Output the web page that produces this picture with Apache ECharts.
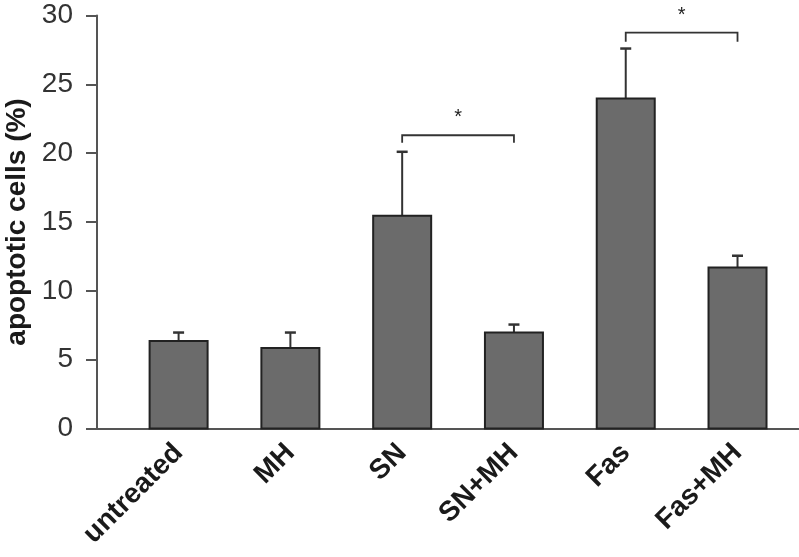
<!DOCTYPE html>
<html>
<head>
<meta charset="utf-8">
<script src="https://cdn.jsdelivr.net/npm/echarts@6/dist/echarts.min.js"></script>
<style>
html,body{margin:0;padding:0;background:#fff;}
#chart{width:799px;height:557px;}
</style>
</head>
<body>
<div id="chart"></div>
<script>
// Data
var categories = ['untreated', 'MH', 'SN', 'SN+MH', 'Fas', 'Fas+MH'];
var meanValues = [6.35, 5.85, 15.45, 6.97, 23.98, 11.7];
var errorTops = [6.97, 6.97, 20.1, 7.55, 27.6, 12.55];
var yTicks = [0, 5, 10, 15, 20, 25, 30];
// significance brackets
var bracketFrom = [2, 4];
var bracketTo = [3, 5];
var bracketTop = [21.3, 28.75];
var bracketEnd = [20.75, 28.1];
var starLevel = [22.6, 30.0];

var chart = echarts.init(document.getElementById('chart'));

var barData = meanValues.map(function (v, i) { return [i, v, errorTops[i]]; });
var brData = bracketFrom.map(function (f, k) {
  return [f, bracketTo[k], bracketTop[k], bracketEnd[k], starLevel[k]];
});

var font = 'Liberation Sans, Arial, Helvetica, sans-serif';

chart.setOption({
  animation: false,
  backgroundColor: '#ffffff',
  grid: { left: 97, right: 0, top: 15.5, bottom: 128.5, containLabel: false, outerBoundsMode: 'none' },
  xAxis: {
    type: 'value',
    min: -0.73,
    max: 5.55,
    splitLine: { show: false },
    axisLine: { show: true, onZero: false, lineStyle: { color: '#555', width: 2 } },
    axisTick: { show: false },
    axisLabel: {
      customValues: categories.map(function (c, i) { return i; }),
      formatter: function (v) { return categories[Math.round(v)]; },
      rotate: 45,
      margin: 20,
      fontFamily: font,
      fontWeight: 'bold',
      fontSize: 28,
      color: '#1a1a1a'
    }
  },
  yAxis: {
    type: 'value',
    min: 0,
    max: 30,
    interval: 5,
    name: 'apoptotic cells (%)',
    nameLocation: 'middle',
    nameGap: 65,
    nameTextStyle: { fontFamily: font, fontWeight: 'bold', fontSize: 28, color: '#1a1a1a' },
    splitLine: { show: false },
    axisLine: { show: true, onZero: false, lineStyle: { color: '#555', width: 2 } },
    axisTick: { show: true, length: 11, lineStyle: { color: '#555', width: 2 } },
    axisLabel: {
      margin: 24,
      fontFamily: font,
      fontSize: 28,
      color: '#333',
      formatter: function (v) { return yTicks.indexOf(v) >= 0 ? String(v) : ''; }
    }
  },
  series: [
    {
      type: 'custom',
      data: barData,
      z: 2,
      renderItem: function (params, api) {
        var x = api.value(0);
        var base = api.coord([x, 0]);
        var top = api.coord([x, api.value(1)]);
        var err = api.coord([x, api.value(2)]);
        var bw = 58, half = 5.5;
        return {
          type: 'group',
          children: [
            { type: 'line', shape: { x1: top[0], y1: top[1], x2: err[0], y2: err[1] },
              style: { stroke: '#333', lineWidth: 2 } },
            { type: 'line', shape: { x1: err[0] - half, y1: err[1], x2: err[0] + half, y2: err[1] },
              style: { stroke: '#333', lineWidth: 2.5 } },
            { type: 'rect', shape: { x: base[0] - bw / 2, y: top[1], width: bw, height: base[1] - top[1] },
              style: { fill: '#6b6b6b', stroke: '#222', lineWidth: 2 } }
          ]
        };
      }
    },
    {
      type: 'custom',
      data: brData,
      z: 3,
      renderItem: function (params, api) {
        var a = api.coord([api.value(0), api.value(3)]);
        var b = api.coord([api.value(0), api.value(2)]);
        var c = api.coord([api.value(1), api.value(2)]);
        var d = api.coord([api.value(1), api.value(3)]);
        var s = api.coord([(api.value(0) + api.value(1)) / 2, api.value(4)]);
        return {
          type: 'group',
          children: [
            { type: 'polyline', shape: { points: [a, b, c, d] },
              style: { stroke: '#333', lineWidth: 1.8, fill: null } },
            { type: 'text', x: s[0], y: s[1],
              style: { text: '*', fontSize: 20, fontFamily: font, fill: '#222', align: 'center', verticalAlign: 'middle' } }
          ]
        };
      }
    }
  ]
});
</script>
</body>
</html>
